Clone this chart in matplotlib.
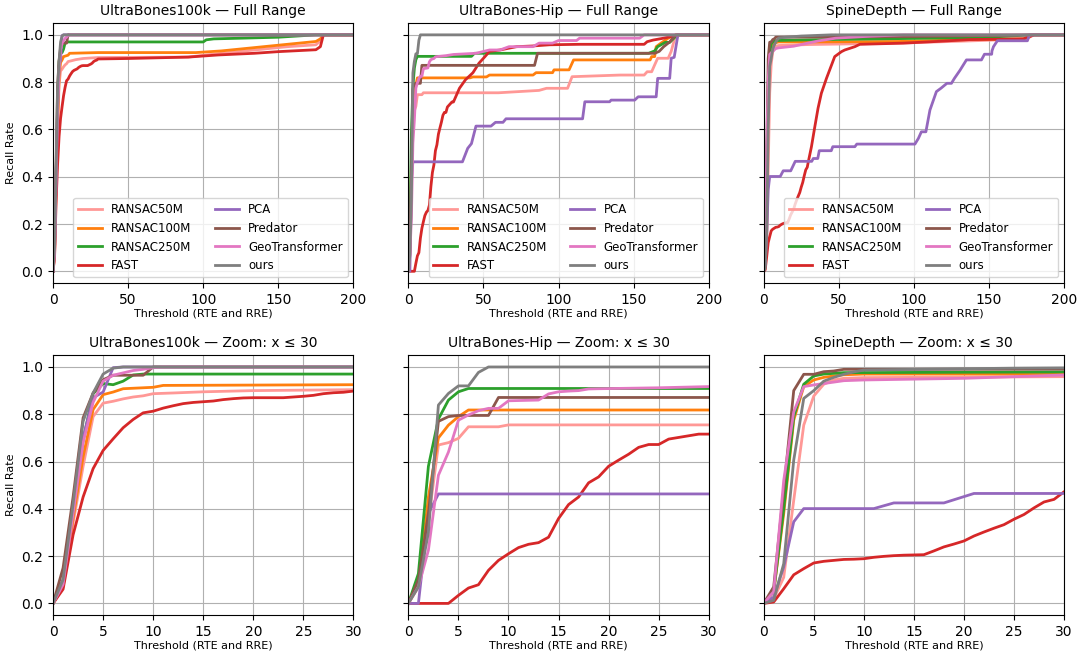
import matplotlib
matplotlib.use("Agg")
import matplotlib.pyplot as plt

methods = ["RANSAC50M", "RANSAC100M", "RANSAC250M", "FAST", "PCA", "Predator", "GeoTransformer", "ours"]
colors = ["#ff9896", "#ff7f0e", "#2ca02c", "#d62728", "#9467bd", "#8c564b", "#e377c2", "#7f7f7f"]
datasets = ["UltraBones100k", "UltraBones-Hip", "SpineDepth"]

# (threshold, recall) pairs
ub100k = {
    "RANSAC50M": ([0, 1, 2, 3, 4, 5, 6, 7, 8, 9, 10, 12, 15, 20, 30, 90, 112, 134, 156, 175, 178, 180, 200],
                  [0, 0.07, 0.34, 0.58, 0.79, 0.847, 0.855, 0.865, 0.873, 0.878, 0.887, 0.89, 0.895, 0.9, 0.904, 0.906, 0.922, 0.936, 0.95, 0.958, 0.975, 1.0, 1.0]),
    "RANSAC100M": ([0, 1, 2, 3, 4, 5, 6, 7, 8, 9, 10, 11, 30, 95, 112, 134, 156, 175, 178, 180, 200],
                   [0, 0.08, 0.36, 0.62, 0.82, 0.883, 0.894, 0.908, 0.91, 0.912, 0.914, 0.922, 0.925, 0.925, 0.932, 0.946, 0.96, 0.972, 0.983, 1.0, 1.0]),
    "RANSAC250M": ([0, 1, 2, 3, 4, 5, 6, 7, 8, 9, 100, 102, 107, 126, 150, 175, 200],
                   [0, 0.1, 0.4, 0.69, 0.887, 0.93, 0.925, 0.94, 0.966, 0.97, 0.97, 0.979, 0.983, 0.986, 0.99, 1.0, 1.0]),
    "FAST": ([0, 1, 2, 3, 4, 5, 6, 7, 8, 9, 10, 11, 12, 13, 14, 15, 16, 17, 18, 19, 20, 23, 24, 25, 26, 27, 28, 29, 30,
              50, 90, 110, 134, 150, 175, 178, 180, 200],
             [0, 0.06, 0.29, 0.45, 0.57, 0.647, 0.696, 0.743, 0.778, 0.806, 0.813, 0.826, 0.836, 0.845, 0.85, 0.853,
              0.856, 0.862, 0.866, 0.869, 0.87, 0.87, 0.873, 0.876, 0.88, 0.887, 0.891, 0.893, 0.898,
              0.9, 0.906, 0.915, 0.922, 0.929, 0.937, 0.95, 1.0, 1.0]),
    "PCA": ([0, 1, 2, 3, 4, 5, 6, 7, 200],
            [0, 0.1, 0.4, 0.7, 0.87, 0.894, 0.997, 1.0, 1.0]),
    "Predator": ([0, 1, 2, 3, 4, 5, 6, 9, 10, 200],
                 [0, 0.15, 0.45, 0.785, 0.89, 0.946, 0.965, 0.965, 1.0, 1.0]),
    "GeoTransformer": ([0, 1, 2, 3, 4, 5, 6, 7, 8, 9, 10, 11, 200],
                       [0, 0.08, 0.38, 0.68, 0.85, 0.94, 0.965, 0.975, 0.985, 0.99, 0.997, 1.0, 1.0]),
    "ours": ([0, 1, 2, 3, 4, 5, 6, 7, 200],
             [0, 0.1, 0.42, 0.77, 0.89, 0.97, 0.995, 1.0, 1.0]),
}

ubhip = {
    "RANSAC50M": ([0, 1, 2, 3, 4, 5, 6, 9, 10, 60, 87, 92, 106, 109, 141, 157, 159, 162, 164, 166, 173, 175, 178, 200],
                  [0, 0.07, 0.35, 0.67, 0.68, 0.698, 0.747, 0.747, 0.755, 0.755, 0.765, 0.774, 0.774, 0.823, 0.83, 0.83,
                   0.844, 0.844, 0.873, 0.901, 0.901, 0.93, 1.0, 1.0]),
    "RANSAC100M": ([0, 1, 2, 3, 4, 5, 6, 41, 43, 52, 54, 83, 85, 96, 97, 107, 110, 161, 162, 164, 165, 168, 173, 178, 200],
                   [0, 0.08, 0.45, 0.7, 0.754, 0.79, 0.818, 0.818, 0.822, 0.822, 0.83, 0.83, 0.84, 0.84, 0.852, 0.852,
                    0.894, 0.894, 0.908, 0.908, 0.95, 0.964, 0.986, 1.0, 1.0]),
    "RANSAC250M": ([0, 1, 2, 3, 4, 5, 6, 42, 44, 160, 164, 166, 171, 174, 179, 200],
                   [0, 0.126, 0.58, 0.78, 0.86, 0.895, 0.909, 0.909, 0.922, 0.922, 0.932, 0.95, 0.968, 0.968, 1.0, 1.0]),
    "FAST": ([0, 4, 5, 6, 7, 8, 9, 10, 11, 12, 13, 14, 15, 16, 17, 18, 19, 20, 21, 22, 23, 24, 25, 26, 27, 28, 29, 30,
              34, 38, 43, 47, 51, 54, 61, 72, 83, 94, 114, 157, 159, 163, 170, 180, 200],
             [0, 0, 0.034, 0.065, 0.079, 0.14, 0.182, 0.21, 0.236, 0.25, 0.257, 0.28, 0.359, 0.418, 0.45, 0.51, 0.535,
              0.58, 0.606, 0.631, 0.66, 0.672, 0.672, 0.695, 0.702, 0.709, 0.716, 0.716,
              0.774, 0.81, 0.84, 0.88, 0.908, 0.93, 0.936, 0.95, 0.953, 0.958, 0.96, 0.96, 0.971, 0.978, 0.986, 1.0, 1.0]),
    "PCA": ([0, 1, 2, 3, 36, 39.5, 42, 45, 55, 58, 63, 65, 116, 117.5, 134, 135, 150.7, 153, 165, 166, 174, 175, 177, 179.5, 200],
            [0, 0, 0.38, 0.463, 0.463, 0.52, 0.54, 0.614, 0.614, 0.63, 0.63, 0.645, 0.645, 0.717, 0.717, 0.724, 0.724,
             0.738, 0.738, 0.816, 0.816, 0.901, 0.905, 1.0, 1.0]),
    "Predator": ([0, 1, 2, 3, 4, 5, 8, 9, 84, 86, 164, 167, 170, 174, 178, 200],
                 [0, 0.1, 0.38, 0.77, 0.79, 0.795, 0.795, 0.871, 0.871, 0.922, 0.922, 0.93, 0.95, 0.97, 1.0, 1.0]),
    "GeoTransformer": ([0, 1, 2, 3, 4, 5, 6, 7, 8, 9, 10, 13, 14, 15, 16, 17, 18, 19, 25, 30, 45, 54, 61, 67, 83, 87, 96,
                        100, 112, 114, 154, 157, 200],
                       [0, 0.07, 0.225, 0.542, 0.64, 0.775, 0.797, 0.815, 0.825, 0.825, 0.857, 0.86, 0.886, 0.895, 0.898,
                        0.9, 0.907, 0.908, 0.912, 0.917, 0.922, 0.936, 0.936, 0.95, 0.95, 0.965, 0.965, 0.976, 0.976,
                        0.986, 0.986, 1.0, 1.0]),
    "ours": ([0, 1, 2, 3, 4, 5, 6, 7, 8, 200],
             [0, 0.07, 0.3, 0.839, 0.888, 0.92, 0.92, 0.977, 1.0, 1.0]),
}

spine = {
    "RANSAC50M": ([0, 1, 2, 3, 4, 5, 6, 7, 8, 10, 30, 90, 140, 175, 180, 200],
                  [0, 0.02, 0.11, 0.436, 0.754, 0.877, 0.927, 0.945, 0.952, 0.955, 0.959, 0.965, 0.975, 0.983, 1.0, 1.0]),
    "RANSAC100M": ([0, 1, 2, 3, 4, 5, 6, 7, 8, 10, 30, 90, 137, 173, 179.5, 200],
                   [0, 0.05, 0.38, 0.775, 0.917, 0.945, 0.956, 0.962, 0.967, 0.97, 0.97, 0.972, 0.98, 0.983, 1.0, 1.0]),
    "RANSAC250M": ([0, 1, 2, 3, 4, 5, 6, 7, 8, 30, 100, 150, 178, 200],
                   [0, 0.05, 0.4, 0.79, 0.927, 0.962, 0.97, 0.973, 0.976, 0.979, 0.985, 0.99, 1.0, 1.0]),
    "FAST": ([0, 1, 2, 3, 4, 5, 6, 7, 8, 9, 10, 11, 12, 13, 14, 15, 16, 17, 18, 19, 20, 21, 22, 23, 24, 25, 26, 27, 28,
              29, 30, 31.8, 34, 36.2, 38.4, 41.8, 47.3, 51.8, 54, 60.7, 64, 93, 115, 137, 173, 180, 200],
             [0, 0.006, 0.062, 0.121, 0.147, 0.171, 0.178, 0.182, 0.186, 0.187, 0.189, 0.195, 0.199, 0.202, 0.204,
              0.205, 0.206, 0.222, 0.239, 0.251, 0.264, 0.285, 0.302, 0.318, 0.333, 0.356, 0.376, 0.404, 0.429, 0.44,
              0.472, 0.527, 0.61, 0.69, 0.753, 0.816, 0.908, 0.929, 0.936, 0.95, 0.96, 0.965, 0.972, 0.98, 0.983, 1.0, 1.0]),
    "PCA": ([0, 1, 2, 3, 4, 11, 13, 18, 21, 32, 33, 36, 37, 45, 46, 60.7, 62, 100.7, 103, 105, 108, 110.7, 115, 118, 122,
             125, 127, 130.7, 135, 145, 147, 151.8, 152, 153, 155.6, 175.6, 177, 200],
            [0, 0.027, 0.154, 0.345, 0.401, 0.401, 0.425, 0.425, 0.465, 0.465, 0.477, 0.477, 0.51, 0.51, 0.527, 0.527,
             0.538, 0.538, 0.562, 0.59, 0.59, 0.682, 0.76, 0.774, 0.795, 0.795, 0.816, 0.85, 0.894, 0.894, 0.918,
             0.918, 0.932, 0.95, 0.975, 0.975, 1.0, 1.0]),
    "Predator": ([0, 1, 2, 3, 4, 5, 6, 7, 8, 100, 178, 200],
                 [0, 0.07, 0.48, 0.9, 0.969, 0.969, 0.98, 0.983, 0.99, 0.993, 1.0, 1.0]),
    "GeoTransformer": ([0, 1, 2, 3, 4, 5, 6, 7, 8, 10, 20, 30, 37, 48, 70, 93, 200],
                       [0, 0.05, 0.52, 0.81, 0.917, 0.924, 0.93, 0.936, 0.942, 0.945, 0.952, 0.966, 0.975, 0.986,
                        0.994, 1.0, 1.0]),
    "ours": ([0, 1, 2, 3, 4, 5, 6, 7, 8, 9, 10, 15, 25, 45, 200],
             [0, 0.013, 0.168, 0.606, 0.867, 0.9, 0.94, 0.956, 0.969, 0.979, 0.987, 0.99, 0.995, 1.0, 1.0]),
}

all_data = [ub100k, ubhip, spine]

fig, axes = plt.subplots(2, 3, figsize=(10.83, 6.58), dpi=100, sharey=True)
fig.subplots_adjust(left=0.049, right=0.9825, top=0.965, bottom=0.065, wspace=0.183, hspace=0.277)

for col, (name, data) in enumerate(zip(datasets, all_data)):
    for row in range(2):
        ax = axes[row, col]
        for m, c in zip(methods, colors):
            xs, ys = data[m]
            ax.plot(xs, ys, color=c, lw=2, label=m)
        ax.grid(True)
        ax.set_ylim(-0.05, 1.05)
        ax.set_yticks([0, 0.2, 0.4, 0.6, 0.8, 1.0])
        ax.set_xlabel("Threshold (RTE and RRE)", fontsize=8, labelpad=1)
        if row == 0:
            ax.set_xlim(0, 200)
            ax.set_title(f"{name} — Full Range", fontsize=10)
            ax.legend(loc="lower right", ncol=2, fontsize=8.5)
        else:
            ax.set_xlim(0, 30)
            ax.set_title(f"{name} — Zoom: x ≤ 30", fontsize=10)
        if col == 0:
            ax.set_ylabel("Recall Rate", fontsize=8)

fig.savefig("out.png", dpi=100)
